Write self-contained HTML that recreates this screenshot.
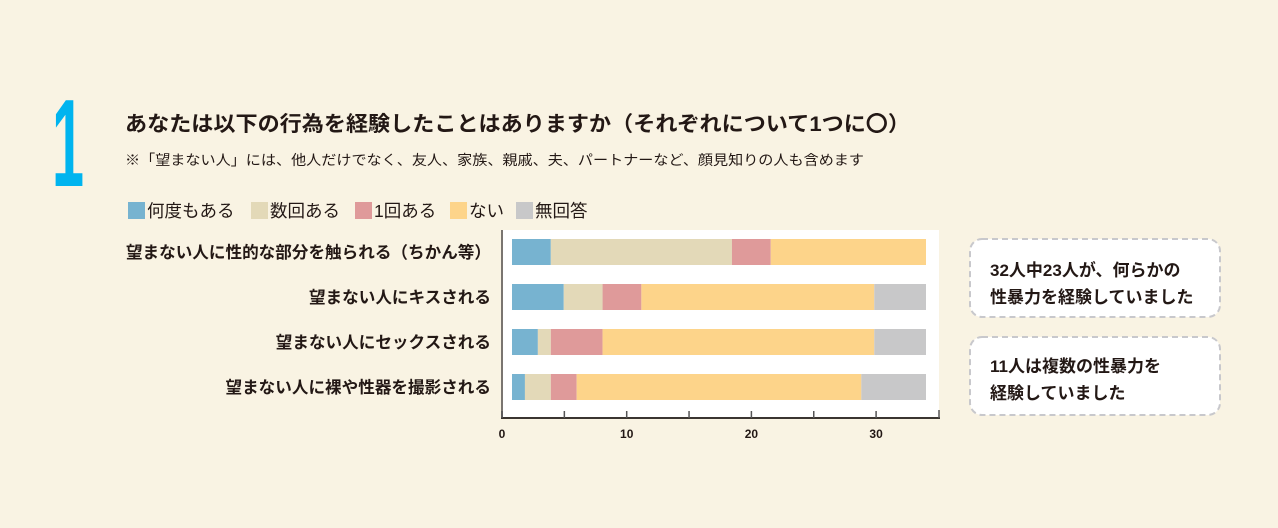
<!DOCTYPE html>
<html><head><meta charset="utf-8">
<style>
body{margin:0;background:#f9f3e3;width:1278px;height:528px;overflow:hidden;font-family:"Liberation Sans","Noto Sans CJK JP",sans-serif;}
svg{position:absolute;left:0;top:0}
</style></head>
<body>
<svg width="1278" height="528">
<rect x="0" y="0" width="1278" height="528" fill="#f9f3e3"/>
<text x="52" y="186" font-size="124" font-weight="bold" fill="#00b4ef" font-family="Liberation Sans, sans-serif" textLength="32" lengthAdjust="spacingAndGlyphs">1</text>
<text x="125" y="131" font-size="21" font-weight="bold" fill="#231815" textLength="785" lengthAdjust="spacingAndGlyphs">あなたは以下の行為を経験したことはありますか（それぞれについて1つに〇）</text>
<text x="125" y="165" font-size="14" fill="#231815" textLength="739" lengthAdjust="spacingAndGlyphs">※「望まない人」には、他人だけでなく、友人、家族、親戚、夫、パートナーなど、顔見知りの人も含めます</text>
<g id="legend"></g>
<rect x="502" y="230" width="437" height="188" fill="#ffffff"/>
<g id="bars"></g>
<g id="axis"></g>
<g id="labels"></g>
<g>
<rect x="970" y="239" width="250" height="78" rx="12" fill="#ffffff" stroke="#c8c8cc" stroke-width="2" stroke-dasharray="6,4"/>
<text x="990" y="276" font-size="17" font-weight="bold" fill="#231815">32人中23人が、何らかの</text>
<text x="990" y="303" font-size="17" font-weight="bold" fill="#231815">性暴力を経験していました</text>
</g>
<g>
<rect x="970" y="337" width="250" height="78" rx="12" fill="#ffffff" stroke="#c8c8cc" stroke-width="2" stroke-dasharray="6,4"/>
<text x="990" y="372" font-size="17" font-weight="bold" fill="#231815">11人は複数の性暴力を</text>
<text x="990" y="399" font-size="17" font-weight="bold" fill="#231815">経験していました</text>
</g>
</svg>
<script>
const categories=["望まない人に性的な部分を触られる（ちかん等）","望まない人にキスされる","望まない人にセックスされる","望まない人に裸や性器を撮影される"];
const seriesNames=["何度もある","数回ある","1回ある","ない","無回答"];
const manyTimes=[3,4,2,1];
const severalTimes=[14,3,1,2];
const once=[3,3,4,2];
const never=[12,18,21,22];
const noAnswer=[0,4,4,5];
const tickValues=[0,5,10,15,20,25,30];
const tickLabels=["0","","10","","20","","30"];
const colors=["#77b3d0","#e3d9b8","#df9a9a","#fdd48a","#c8c8c9"];
const NS="http://www.w3.org/2000/svg";
const series=[manyTimes,severalTimes,once,never,noAnswer];
const barX0=512, unit=414/32;
function xBar(v){return barX0+v*unit;}
function xAxis(v){return 502+v*12.47;}
function yRow(i){return 239+i*45;}
function mk(tag,attrs,parent){const e=document.createElementNS(NS,tag);for(const k in attrs)e.setAttribute(k,attrs[k]);parent.appendChild(e);return e;}
const bars=document.getElementById('bars');
categories.forEach((c,i)=>{let acc=0;series.forEach((s,j)=>{const v=s[i];if(v>0){const r=mk('rect',{x:xBar(acc),y:yRow(i),width:v*unit,height:26,fill:colors[j]},bars);

}acc+=v;});});
const labels=document.getElementById('labels');
categories.forEach((c,i)=>{const t=mk('text',{x:491,y:yRow(i)+19,'text-anchor':'end','font-size':16.6,'font-weight':'bold',fill:'#231815'},labels);t.textContent=c;

});
const axis=document.getElementById('axis');
mk('line',{x1:502,y1:230,x2:502,y2:418,stroke:'#7a7570','stroke-width':2},axis);
mk('line',{x1:501,y1:418,x2:940,y2:418,stroke:'#3a3530','stroke-width':2},axis);
mk('line',{x1:939,y1:410,x2:939,y2:418,stroke:'#555','stroke-width':1.5},axis);
tickValues.forEach((v,k)=>{mk('line',{x1:xAxis(v),y1:411,x2:xAxis(v),y2:418,stroke:'#555','stroke-width':1.5},axis);
if(tickLabels[k]){const t=mk('text',{x:xAxis(v),y:438,'text-anchor':'middle','font-size':12,'font-weight':'bold',fill:'#231815'},axis);t.textContent=tickLabels[k];

}});
const legend=document.getElementById('legend');
const legX=[128,251,355,450,516];
seriesNames.forEach((n,j)=>{mk('rect',{x:legX[j],y:202,width:17,height:17,fill:colors[j]},legend);
const t=mk('text',{x:legX[j]+19,y:217,'font-size':17.5,fill:'#231815'},legend);t.textContent=n;

});
</script>
</body></html>
